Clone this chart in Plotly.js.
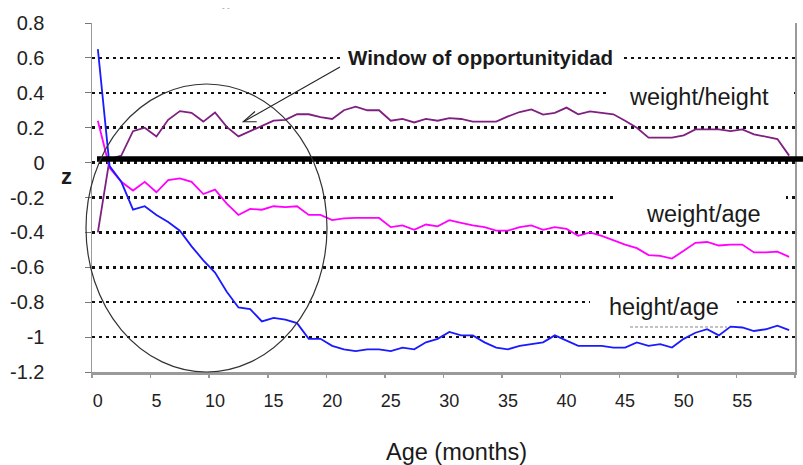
<!DOCTYPE html>
<html><head><meta charset="utf-8">
<script src="https://cdn.plot.ly/plotly-3.0.1.min.js"></script>
<style>html,body{margin:0;padding:0;background:#fff}#chart{width:803px;height:465px}</style>
</head><body><div id="chart"></div><script>
const months = [0,1,2,3,4,5,6,7,8,9,10,11,12,13,14,15,16,17,18,19,20,21,22,23,24,25,26,27,28,29,30,31,32,33,34,35,36,37,38,39,40,41,42,43,44,45,46,47,48,49,50,51,52,53,54,55,56,57,58,59];
const heightForAge = [0.65,-0.02,-0.11,-0.27,-0.25,-0.30,-0.34,-0.39,-0.48,-0.56,-0.63,-0.74,-0.83,-0.84,-0.91,-0.89,-0.90,-0.92,-1.01,-1.01,-1.05,-1.07,-1.08,-1.07,-1.07,-1.08,-1.06,-1.07,-1.03,-1.01,-0.97,-0.99,-0.99,-1.03,-1.06,-1.07,-1.05,-1.04,-1.03,-0.99,-1.02,-1.05,-1.05,-1.05,-1.06,-1.06,-1.03,-1.05,-1.04,-1.06,-1.01,-0.975,-0.955,-0.99,-0.94,-0.945,-0.965,-0.955,-0.935,-0.96];
const weightForAge = [0.24,-0.03,-0.11,-0.16,-0.11,-0.17,-0.10,-0.09,-0.11,-0.18,-0.155,-0.235,-0.30,-0.265,-0.27,-0.25,-0.255,-0.25,-0.30,-0.30,-0.33,-0.32,-0.317,-0.317,-0.317,-0.37,-0.36,-0.385,-0.355,-0.365,-0.33,-0.345,-0.36,-0.37,-0.39,-0.39,-0.37,-0.36,-0.385,-0.37,-0.38,-0.42,-0.40,-0.42,-0.445,-0.47,-0.49,-0.53,-0.535,-0.55,-0.505,-0.46,-0.455,-0.475,-0.47,-0.47,-0.515,-0.515,-0.51,-0.54];
const weightForHeight = [-0.40,0.02,0.04,0.18,0.20,0.15,0.245,0.295,0.285,0.235,0.287,0.205,0.15,0.18,0.21,0.24,0.245,0.277,0.277,0.26,0.25,0.30,0.32,0.30,0.30,0.24,0.25,0.23,0.25,0.24,0.255,0.25,0.235,0.233,0.235,0.265,0.29,0.305,0.275,0.285,0.315,0.277,0.294,0.285,0.277,0.24,0.20,0.143,0.143,0.143,0.156,0.19,0.19,0.19,0.18,0.19,0.162,0.15,0.135,0.04];
const xTickVals = [0,5,10,15,20,25,30,35,40,45,50,55];
const xTickText = ['0','5','10','15','20','25','30','35','40','45','50','55'];
const xBoundaryTicks = [-0.5,4.5,9.5,14.5,19.5,24.5,29.5,34.5,39.5,44.5,49.5,54.5,59.5];
const yTickVals = [-1.2,-1,-0.8,-0.6,-0.4,-0.2,0,0.2,0.4,0.6,0.8];
const yTickText = ['-1.2','-1','-0.8','-0.6','-0.4','-0.2','0','0.2','0.4','0.6','0.8'];
const seriesNames = ['weight/height','weight/age','height/age'];
const windowLabel = 'Window of opportunityidad';
const xTitle = 'Age (months)';
const yTitle = 'z';

const FONT = 'Liberation Sans, Arial, sans-serif';
const L=92, R=795, T=23, B=372;
const px = x => (x-L)/(R-L);
const py = y => (B-y)/(B-T);

const traces = [
  {x: months, y: weightForHeight, name: seriesNames[0], mode:'lines', line:{color:'#7f1f7f', width:1.8}},
  {x: months, y: weightForAge, name: seriesNames[1], mode:'lines', line:{color:'#ff00ff', width:1.8}},
  {x: months, y: heightForAge, name: seriesNames[2], mode:'lines', line:{color:'#1a1aff', width:1.8}},
  {x: [], y: [], xaxis:'x2', showlegend:false, hoverinfo:'skip'}
];

const whiteBox = (x0,x1,y0,y1) => ({type:'rect', xref:'paper', yref:'paper', x0:px(x0), x1:px(x1), y0:py(y1), y1:py(y0), fillcolor:'#ffffff', line:{width:0}, layer:'above'});

const shapes = [
  whiteBox(343,622,46,67),
  whiteBox(610,794,79,112),
  whiteBox(615,786,188,226),
  whiteBox(590,737,292,318),
  {type:'line', xref:'paper', yref:'paper', x0:px(630), x1:px(727), y0:py(327), y1:py(327), line:{color:'#b0b0b0', width:1.5, dash:'3px,2px'}, layer:'above'},
  {type:'line', xref:'paper', yref:'paper', x0:px(97), x1:px(803), y0:py(159), y1:py(159), line:{color:'#000', width:5.5}, layer:'above'},
  {type:'circle', xref:'paper', yref:'paper', x0:px(86), x1:px(327), y0:py(372), y1:py(84), line:{color:'#333', width:1.2}, layer:'above'},
  {type:'line', xref:'paper', yref:'paper', x0:px(340), y0:py(67), x1:px(244), y1:py(121.5), line:{color:'#222', width:1.1}, layer:'above'},
  {type:'path', xref:'paper', yref:'paper', path:`M ${px(256.7)},${py(121.7)} L ${px(243.3)},${py(121.7)} L ${px(255)},${py(111.5)}`, line:{color:'#222', width:1.1}, layer:'above'}
];

const ann = (text,x,y,size,anchor) => ({xref:'paper', yref:'paper', x:px(x), y:py(y), xanchor:anchor||'left', yanchor:'middle', text:text, showarrow:false, font:{family:FONT, size:size, color:'#1a1a1a'}});

const annotations = [
  ann('<b>'+windowLabel+'</b>', 346, 57, 20.5),
  ann(seriesNames[0], 627, 97, 23.5),
  ann(seriesNames[1], 644, 214, 23.5),
  ann(seriesNames[2], 607, 307, 23.5),
  ann('<b>'+yTitle+'</b>', 66, 176, 22, 'center'),
  ann(xTitle, 456, 452, 23.5, 'center'),
  {xref:'paper', yref:'paper', x:px(226), y:py(7), xanchor:'center', yanchor:'middle', text:'- -', showarrow:false, font:{family:FONT, size:8, color:'#888'}}
];

const layout = {
  width:803, height:465, autosize:false,
  margin:{l:L, r:803-R, t:T, b:465-B, pad:0},
  paper_bgcolor:'#fff', plot_bgcolor:'#fff',
  showlegend:false,
  xaxis:{range:[-0.5,59.5], tickmode:'array', tickvals:xTickVals, ticktext:xTickText, ticks:'', showgrid:false, zeroline:false,
         showline:true, linecolor:'#9a9a9a', linewidth:2.5, tickfont:{family:FONT, size:18, color:'#222'}, ticklabelstandoff:11},
  xaxis2:{overlaying:'x', anchor:'y', side:'bottom', range:[-0.5,59.5], tickmode:'array', tickvals:xBoundaryTicks, ticks:'outside', ticklen:5,
          tickcolor:'#999', tickwidth:1.5, showticklabels:false, showgrid:false, zeroline:false, showline:false},
  yaxis:{range:[-1.2,0.8], tickmode:'array', tickvals:yTickVals, ticktext:yTickText, showgrid:true, gridcolor:'#111', gridwidth:2.5,
         griddash:'3px,4px', zeroline:false, showline:true, mirror:true, linecolor:'#9a9a9a', linewidth:1.5,
         ticks:'outside', ticklen:6, tickcolor:'#777', tickfont:{family:FONT, size:20, color:'#222'}, ticklabelstandoff:36},
  shapes:shapes,
  annotations:annotations
};

Plotly.newPlot('chart', traces, layout, {staticPlot:true, displayModeBar:false});
</script></body></html>
